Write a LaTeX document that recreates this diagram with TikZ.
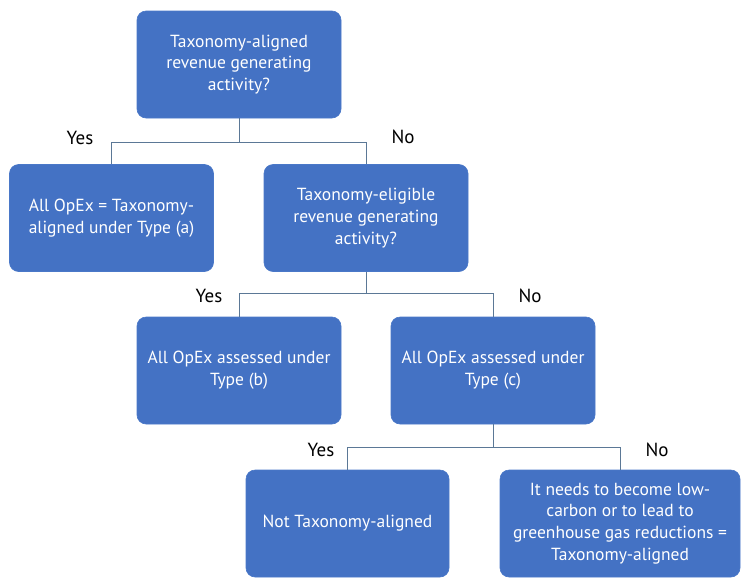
\documentclass[tikz,border=0pt]{standalone}
\usepackage{fontspec}
\setmainfont{PT Sans}
\definecolor{boxblue}{HTML}{4472C4}
\definecolor{boxedge}{HTML}{4A78C8}
\definecolor{linecol}{HTML}{5B7896}
\begin{document}
\begin{tikzpicture}[x=1pt,y=-1pt,
  box/.style={rectangle, rounded corners=9pt, fill=boxblue, draw=boxedge, line width=0.6pt,
    minimum width=204pt, minimum height=107pt, align=center, text=white,
    font=\fontsize{17.5}{21.8}\selectfont, inner sep=2pt},
  conn/.style={draw=linecol, line width=0.9pt},
  lab/.style={font=\fontsize{19}{22}\selectfont, text=black}]
\useasboundingbox (0,0) rectangle (750,587);
\node[box] (top) at (239,64.5) {Taxonomy-aligned\\revenue generating\\activity?};
\node[box] (a) at (111.5,218) {All OpEx = Taxonomy-\\aligned under Type (a)};
\node[box] (elig) at (366,218) {Taxonomy-eligible\\revenue generating\\activity?};
\node[box] (b) at (239,370.5) {All OpEx assessed under\\Type (b)};
\node[box] (c) at (493,370.5) {All OpEx assessed under\\Type (c)};
\node[box, minimum width=203pt] (nta) at (347.5,523.5) {Not Taxonomy-aligned};
\node[box, minimum width=240pt] (ta) at (620,523.5) {It needs to become low-\\carbon or to lead to\\greenhouse gas reductions =\\Taxonomy-aligned};
\coordinate (j1) at (239,142);
\coordinate (j2) at (366,293);
\coordinate (j3) at (493,447);
\draw[conn] (top.south) -- (j1);
\draw[conn] (j1) -| (a.north);
\draw[conn] (j1) -| (elig.north);
\draw[conn] (elig.south) -- (j2);
\draw[conn] (j2) -| (b.north);
\draw[conn] (j2) -| (c.north);
\draw[conn] (c.south) -- (j3);
\draw[conn] (j3) -| (nta.north);
\draw[conn] (j3) -| (ta.north);
\node[lab] (y1) at (80,138) {Yes};
\node[lab] (n1) at (403,137) {No};
\node[lab] (y2) at (209,296) {Yes};
\node[lab] (n2) at (530,296) {No};
\node[lab] (y3) at (321,450) {Yes};
\node[lab] (n3) at (657,450) {No};
\end{tikzpicture}
\end{document}
